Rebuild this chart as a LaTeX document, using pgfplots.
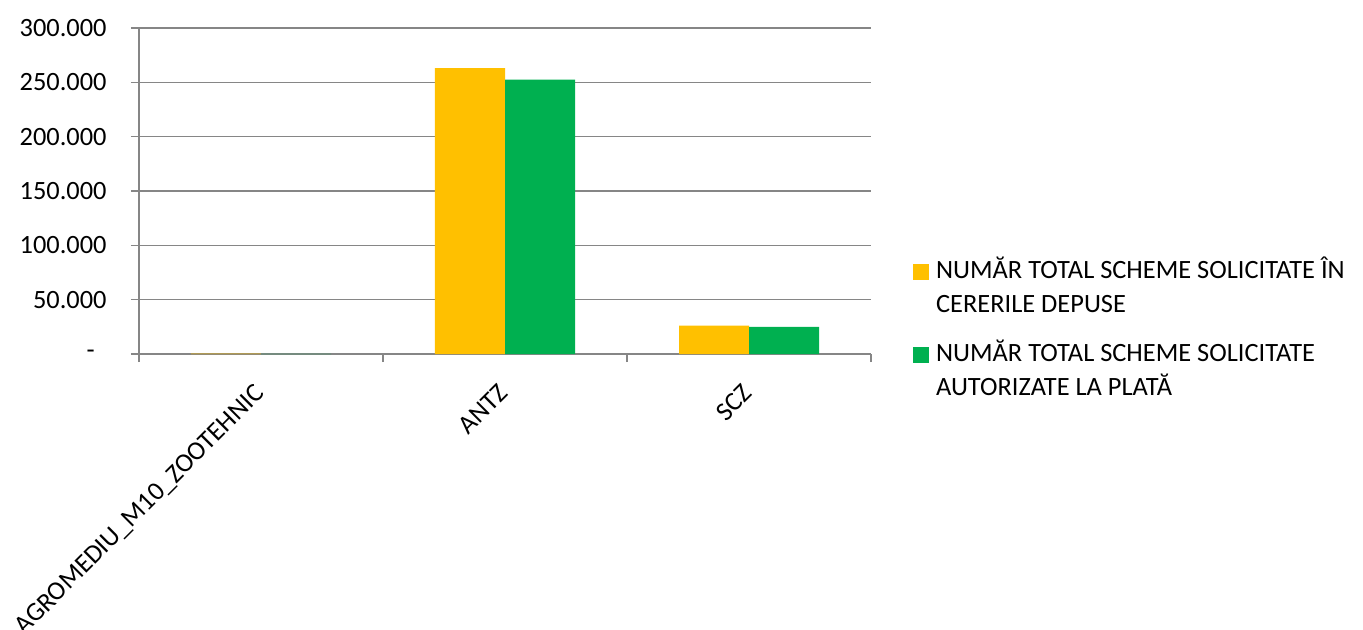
\documentclass[border=0pt]{standalone}
\usepackage{fontspec}
\setmainfont{Carlito}
\usepackage{pgfplots}
\pgfplotsset{compat=1.18}
\definecolor{excelgold}{HTML}{FFC000}
\definecolor{excelgreen}{HTML}{00B050}
\definecolor{gridgray}{HTML}{868686}

\begin{document}
\begin{tikzpicture}[font=\fontsize{13.2}{17}\selectfont]
\useasboundingbox (-69.5pt,-138pt) rectangle (612pt,177pt);
\begin{axis}[
    at={(0pt,0pt)}, anchor=south west,
    width=366pt, height=163pt, scale only axis,
    xmin=-0.5, xmax=2.5, ymin=0, ymax=300000,
    scaled y ticks=false,
    ybar=0pt, bar width=35pt,
    axis x line*=bottom, axis y line*=left,
    axis line style={gridgray, line width=1pt},
    ymajorgrids, grid style={gridgray, line width=0.6pt},
    ytick={0,50000,100000,150000,200000,250000,300000},
    yticklabels={{-\rule{6pt}{0pt}},50.000,100.000,150.000,200.000,250.000,300.000},
    xtick={0,1,2},
    xticklabels={AGROMEDIU\_M10\_ZOOTEHNIC, ANTZ, SCZ},
    minor xtick={-0.5,0.5,1.5,2.5},
    tick align=outside,
    major tick length=4pt, minor tick length=4pt,
    tick style={gridgray, line width=0.8pt},
    every major x tick/.append style={draw=none},
    yticklabel style={inner sep=0pt, xshift=-12pt},
    xticklabel style={rotate=45, anchor=north east, inner sep=0pt, xshift=-9.9pt, yshift=-4.4pt},
    legend style={at={(rel axis cs:1.057,0.306)}, anchor=north west,
        draw=none, fill=none, inner sep=0pt,
        nodes={inner sep=0pt, anchor=base west},
        column sep=3.5pt, row sep=28pt},
]
\addplot[fill=excelgold, draw=none,
    legend image code/.code={\fill[excelgold] (0pt,-1pt) rectangle (8pt,7pt);}]
    coordinates {(0,450) (1,263000) (2,26000)};
\addplot[fill=excelgreen, draw=none,
    legend image code/.code={\fill[excelgreen] (0pt,-1pt) rectangle (8pt,7pt);}]
    coordinates {(0,50) (1,252500) (2,24900)};
\legend{{\begin{tabular}[t]{@{}l@{}}NUMĂR TOTAL SCHEME SOLICITATE ÎN\\CERERILE DEPUSE\end{tabular}},
        {\begin{tabular}[t]{@{}l@{}}NUMĂR TOTAL SCHEME SOLICITATE\\AUTORIZATE LA PLATĂ\end{tabular}}}
\end{axis}
\end{tikzpicture}
\end{document}
